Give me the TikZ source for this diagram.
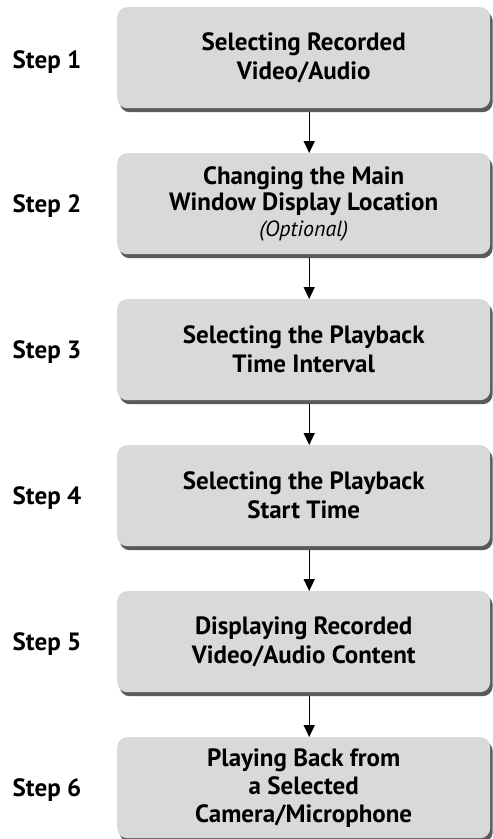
\documentclass[tikz,border=0pt]{standalone}
\usepackage{fontspec}
\setmainfont{PT Sans}
\usetikzlibrary{arrows.meta,shadows}
\definecolor{boxgray}{HTML}{D9D9D9}
\definecolor{shadowgray}{HTML}{5A5A5A}
\tikzset{
  stepbox/.style={draw=none, fill=boxgray, rounded corners=10pt,
    minimum width=373pt, minimum height=101pt, anchor=north west,
    inner sep=0pt, align=center,
    font=\fontsize{25pt}{29pt}\selectfont\bfseries,
    drop shadow={shadow xshift=2.5pt, shadow yshift=-4pt, fill=shadowgray, opacity=1}},
  steplabel/.style={font=\fontsize{25pt}{29pt}\selectfont\bfseries, anchor=center},
  flowarrow/.style={line width=1.4pt, -{Triangle[width=11pt,length=12pt]}}
}
\begin{document}
\begin{tikzpicture}[x=1pt,y=1pt]
\useasboundingbox (0,0) rectangle (493,-839);
\node[stepbox] (b1) at (117,-7) {Selecting Recorded\\Video/Audio};
\node[stepbox, font=\fontsize{25pt}{26pt}\selectfont\bfseries] (b2) at (117,-153) {Changing the Main\\Window Display Location\\{\fontsize{22pt}{26pt}\selectfont\mdseries\itshape (Optional)}};
\node[stepbox] (b3) at (117,-299) {Selecting the Playback\\Time Interval};
\node[stepbox] (b4) at (117,-445) {Selecting the Playback\\Start Time};
\node[stepbox] (b5) at (117,-591) {Displaying Recorded\\Video/Audio Content};
\node[stepbox, font=\fontsize{25pt}{28pt}\selectfont\bfseries] (b6) at (117,-737) {Playing Back from\\a Selected\\Camera/Microphone};
\node[steplabel] (s1) at (47,-62) {Step 1};
\node[steplabel] (s2) at (47,-206) {Step 2};
\node[steplabel] (s3) at (47,-352) {Step 3};
\node[steplabel] (s4) at (47,-498) {Step 4};
\node[steplabel] (s5) at (47,-644) {Step 5};
\node[steplabel] (s6) at (47,-790) {Step 6};
\foreach \a/\b in {b1/b2,b2/b3,b3/b4,b4/b5,b5/b6}{
  \draw[flowarrow] ([xshift=5.5pt,yshift=-4pt]\a.south) -- ([xshift=5.5pt]\b.north);
}
\end{tikzpicture}
\end{document}
